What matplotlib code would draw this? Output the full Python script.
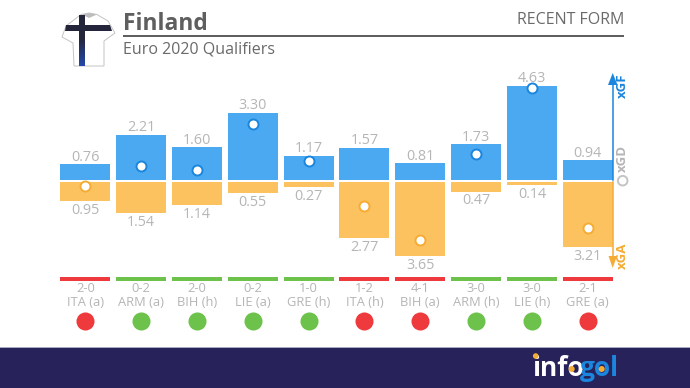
import numpy as np
import matplotlib
matplotlib.use("Agg")
import matplotlib.pyplot as plt
from matplotlib.patches import Polygon, Circle, Rectangle

plt.rcParams['font.family'] = ['Open Sans', 'DejaVu Sans']

# ---- data ----
xgf = [0.76, 2.21, 1.60, 3.30, 1.17, 1.57, 0.81, 1.73, 4.63, 0.94]
xga = [0.95, 1.54, 1.14, 0.55, 0.27, 2.77, 3.65, 0.47, 0.14, 3.21]
xgd = [-0.19, 0.67, 0.46, 2.75, 0.90, -1.20, -2.84, 1.26, 4.49, -2.27]
scores = ["2-0", "0-2", "2-0", "0-2", "1-0", "1-2", "4-1", "3-0", "3-0", "2-1"]
opponents = ["ITA (a)", "ARM (a)", "BIH (h)", "LIE (a)", "GRE (h)",
             "ITA (h)", "BIH (a)", "ARM (h)", "LIE (h)", "GRE (a)"]
results = ["L", "W", "W", "W", "W", "L", "L", "W", "W", "L"]

BLUE, ORANGE, GREY = "#4aa9f0", "#fcc25f", "#b5b5b5"
DBLUE, DORANGE = "#1b86dd", "#f5ac34"
RED, GREEN = "#ee3a3c", "#6cc24a"
NAVY = "#272259"
W, H = 690, 388

fig = plt.figure(figsize=(W/100, H/100), dpi=100, facecolor="white")

# overlay in pixel coordinates for decoration
ov = fig.add_axes([0, 0, 1, 1], zorder=3)
ov.set_xlim(0, W); ov.set_ylim(H, 0); ov.axis("off"); ov.patch.set_alpha(0)

# chart axes: x = match index, y = xG
step = 55.82
x0 = 85.3
scale = 20.3
zero = 180.75
gap = 1.25/scale
ax = fig.add_axes([0, 0, 1, 1], zorder=2)
ax.set_xlim(-x0/step, (W-x0)/step)
ax.set_ylim(-(H-zero)/scale, zero/scale)
ax.axis("off"); ax.patch.set_alpha(0)

x = np.arange(len(xgf))
bw = 50/step
ax.bar(x, xgf, width=bw, bottom=gap, color=BLUE, zorder=2)
ax.bar(x, [-v for v in xga], width=bw, bottom=-gap, color=ORANGE, zorder=2)

for i in x:
    ax.text(i, xgf[i]+gap+7/scale, f"{xgf[i]:.2f}", ha="center", va="center",
            fontsize=10.4, color=GREY, zorder=3)
    ax.text(i, -xga[i]-gap-9.3/scale, f"{xga[i]:.2f}", ha="center", va="center",
            fontsize=10.4, color=GREY, zorder=3)
    ec = DBLUE if xgd[i] >= 0 else DORANGE
    yd = xgd[i] + (gap if xgd[i] >= 0 else -gap)
    ax.plot(i, yd, "o", ms=7.2, mfc="white", mec=ec, mew=1.4, zorder=5)
    col = GREEN if results[i] == "W" else RED
    ax.bar(i, 4/scale, width=bw, bottom=-(281-zero)/scale, color=col, zorder=2)
    ax.text(i, -(288.5-zero)/scale, scores[i], ha="center", va="center",
            fontsize=9.3, color=GREY)
    ax.text(i, -(302.5-zero)/scale, opponents[i], ha="center", va="center",
            fontsize=9.3, color=GREY)
    ax.plot(i, -(320.7-zero)/scale, "o", ms=13, color=col, mew=0)

# header
ov.text(123, 24, "Finland", fontsize=16.4, fontweight="bold", color="#5f5f5f", va="center", ha="left")
ov.text(123, 50, "Euro 2020 Qualifiers", fontsize=11.5, color="#6a6a6a", va="center", ha="left")
ov.text(624, 20, "RECENT FORM", fontsize=11.5, color="#6a6a6a", va="center", ha="right")
ov.add_patch(Rectangle((123, 35), 501, 1.5, color="#5f5f5f", lw=0))

# footer
ov.add_patch(Rectangle((0, 347.5), W, 41, color=NAVY, lw=0))
ov.add_patch(Rectangle((0, 347), W, 0.8, color="#a9a9c0", lw=0))

# shirt
shirt = [(81,14.5),(89,13),(97,14.5),(108,21),(115,33),(104,41),(104,66),(74,66),(73,43),(62,37),(66,26)]
ov.add_patch(Polygon(shirt, closed=True, fc="white", ec="#c4c4c4", lw=0.7))
ov.add_patch(Polygon([(82,14.5),(89,18),(97,14.5),(89,13)], closed=True, fc="#bdbdbd", ec="none"))
ov.add_patch(Polygon([(66,25),(110,25),(112,31),(65,31)], closed=True, fc="#24253a", ec="none"))
grad = np.linspace(0, 1, 50)[:, None, None]
c1, c2 = np.array([0x24,0x25,0x3a])/255, np.array([0x24,0x48,0xa8])/255
img = np.clip((grad*0+1)*c1 + np.where(grad > .45, (grad-.45)/.55, 0)*(c2-c1), 0, 1)
ov.imshow(img, extent=(79, 85, 66, 15), aspect="auto", zorder=2, interpolation="bilinear")
ov.set_xlim(0, W); ov.set_ylim(H, 0)

# axis arrows
ov.plot([612.7, 612.7], [180, 80], color=DBLUE, lw=1.1, zorder=6)
ov.add_patch(Polygon([(612.7,73),(608,85),(617.5,85)], fc=DBLUE, ec="none", zorder=6))
ov.plot([612.7, 612.7], [182, 262], color=DORANGE, lw=1.1, zorder=6)
ov.add_patch(Polygon([(612.7,268),(608.5,256),(617,256)], fc=DORANGE, ec="none", zorder=6))
ov.text(622, 86, "xGF", rotation=90, fontsize=9.5, fontweight="bold", color=DBLUE, ha="center", va="center")
ov.text(622, 158, "xGD", rotation=90, fontsize=9.5, fontweight="bold", color=GREY, ha="center", va="center")
ov.text(622, 255.5, "xGA", rotation=90, fontsize=9.5, fontweight="bold", color=DORANGE, ha="center", va="center")
ov.add_patch(Circle((622.7, 180.7), 4.8, fc="white", ec="#c4c4c4", lw=1.4))

# logo
ov.text(532, 368, "info", fontsize=19, fontweight="bold", color="white", va="center", ha="left")
ov.text(580, 368, "gol", fontsize=19, fontweight="bold", color="#1b86dd", va="center", ha="left")
ov.add_patch(Circle((571.7, 369), 3, fc="#f5ac34", ec="none", zorder=6))
ov.add_patch(Circle((601.7, 369), 3, fc="#f5ac34", ec="none", zorder=6))
ov.add_patch(Circle((535.7, 356), 2.8, fc="#f5ac34", ec="none", zorder=6))

fig.savefig("out.png", dpi=100, facecolor="white")
